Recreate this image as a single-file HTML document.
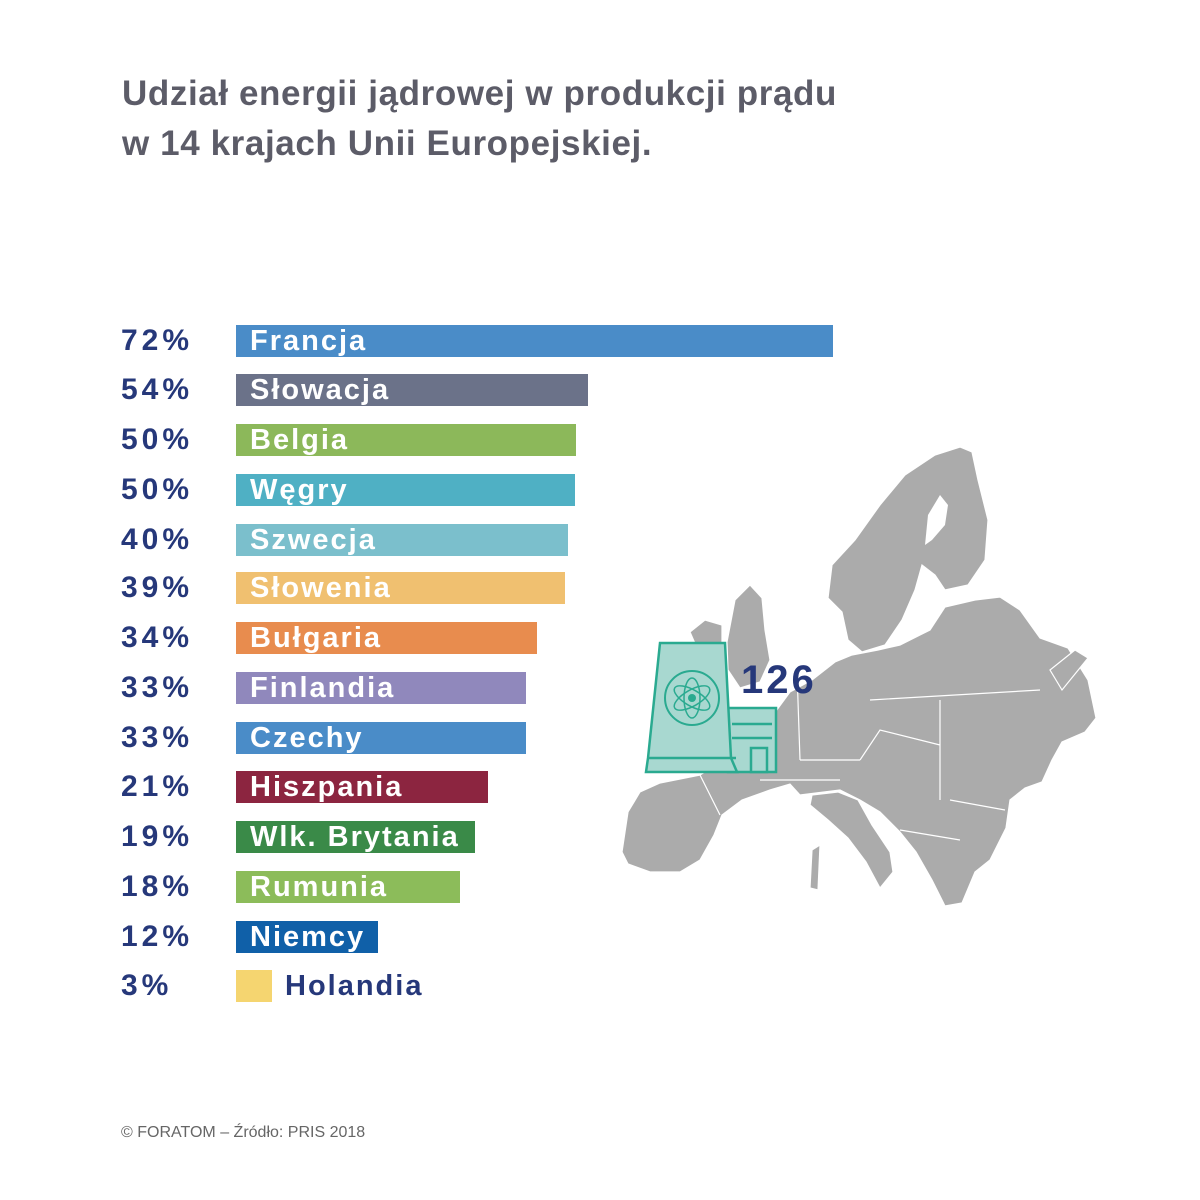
<!DOCTYPE html>
<html><head><meta charset="utf-8"><style>
body{margin:0;width:1200px;height:1200px;background:#fff;position:relative;overflow:hidden;font-family:"Liberation Sans",sans-serif}
.t{position:absolute;left:122px;font-size:35px;font-weight:bold;color:#5c5c68;line-height:1;letter-spacing:0.6px}
.p{position:absolute;left:121px;font-size:30px;font-weight:bold;color:#26387a;letter-spacing:4px;line-height:32px}
.b{position:absolute;left:236px;height:32px}
.l{position:absolute;left:250px;font-size:29px;font-weight:bold;color:#fff;letter-spacing:2px;line-height:32px}
</style></head><body>
<div class="t" style="top:76px">Udział energii jądrowej w produkcji prądu</div>
<div class="t" style="top:126px">w 14 krajach Unii Europejskiej.</div>

<svg style="position:absolute;left:0;top:0" width="1200" height="1200">
<g fill="#ababab" stroke="#fff" stroke-width="1.2">
<path d="M622,852 L628,812 L640,792 L660,783 L700,775 L720,762 L742,742 L768,722 L790,692 L812,680 L835,662 L852,655 L878,650 L900,645 L930,630 L945,607 L975,600 L1000,597 L1020,610 L1040,638 L1068,648 L1088,680 L1096,718 L1085,732 L1062,742 L1052,760 L1042,782 L1025,788 L1010,800 L1006,828 L990,860 L975,872 L962,903 L945,906 L932,880 L916,852 L900,832 L880,812 L860,800 L840,790 L800,795 L790,784 L770,790 L742,800 L722,815 L714,835 L700,860 L680,872 L650,872 L628,864 Z"/>
<path d="M838,792 L858,800 L872,825 L890,852 L893,872 L880,888 L866,862 L848,838 L828,820 L810,805 L812,795 Z"/>
<path d="M828,598 L832,565 L855,540 L880,505 L905,475 L935,455 L960,447 L972,452 L978,480 L988,520 L985,560 L968,585 L945,590 L935,575 L922,565 L915,590 L902,620 L885,645 L862,652 L848,640 L842,612 Z"/>
<path d="M932,540 L945,525 L948,505 L940,495 L928,515 L925,545 Z" fill="#fff" stroke="none"/>
<path d="M727,642 L735,600 L750,585 L762,598 L765,630 L770,660 L760,682 L740,688 L728,670 Z"/>
<path d="M690,632 L705,620 L722,625 L722,648 L700,655 Z"/>
<path d="M1050,670 L1075,650 L1088,658 L1062,690 Z"/>
<path d="M812,850 L820,845 L818,890 L810,888 Z"/>
</g>
<g stroke="#fff" stroke-width="1.2" fill="none">
<path d="M797,672 L800,760 M800,760 L860,760 M860,760 L880,730 L940,745 M940,700 L940,800 M870,700 L1040,690 M760,780 L840,780 M950,800 L1005,810 M900,830 L960,840 M700,775 L720,815"/>
</g>
<g stroke="#2aaa90" stroke-width="2.5" fill="#a8d8d0">
<rect x="728" y="708" width="48" height="64"/>
<path d="M660,643 L725,643 L731,758 L737,772 L646,772 L648,758 Z"/>
<line x1="647" y1="758" x2="736" y2="758"/>
<line x1="732" y1="724" x2="772" y2="724"/>
<line x1="732" y1="738" x2="772" y2="738"/>
<rect x="751" y="748" width="16" height="24"/>
<circle cx="692" cy="698" r="27" fill="none" stroke-width="2"/>
<ellipse cx="692" cy="698" rx="20" ry="8" fill="none" stroke-width="1.5" transform="rotate(30 692 698)"/>
<ellipse cx="692" cy="698" rx="20" ry="8" fill="none" stroke-width="1.5" transform="rotate(-30 692 698)"/>
<ellipse cx="692" cy="698" rx="20" ry="8" fill="none" stroke-width="1.5" transform="rotate(90 692 698)"/>
<circle cx="692" cy="698" r="4" fill="#2aaa90" stroke="none"/>
</g>
<text x="741" y="693" font-family="Liberation Sans" font-weight="bold" font-size="40" fill="#26387a" letter-spacing="3">126</text>
</svg>

<div class="b" style="top:325px;width:597px;background:#4a8cc8"></div>
<div class="b" style="top:374px;width:352px;background:#6b7289"></div>
<div class="b" style="top:424px;width:340px;background:#8cb85a"></div>
<div class="b" style="top:474px;width:339px;background:#4fb0c4"></div>
<div class="b" style="top:524px;width:332px;background:#7bbfcc"></div>
<div class="b" style="top:572px;width:329px;background:#f0c070"></div>
<div class="b" style="top:622px;width:301px;background:#e88c4e"></div>
<div class="b" style="top:672px;width:290px;background:#9088bc"></div>
<div class="b" style="top:722px;width:290px;background:#4a8cc8"></div>
<div class="b" style="top:771px;width:252px;background:#8c2540"></div>
<div class="b" style="top:821px;width:239px;background:#3a8a48"></div>
<div class="b" style="top:871px;width:224px;background:#8cbc5a"></div>
<div class="b" style="top:921px;width:142px;background:#1060a8"></div>
<div class="b" style="top:970px;width:36px;background:#f5d570"></div>

<div class="l" style="top:325px">Francja</div>
<div class="l" style="top:374px">Słowacja</div>
<div class="l" style="top:424px">Belgia</div>
<div class="l" style="top:474px">Węgry</div>
<div class="l" style="top:524px">Szwecja</div>
<div class="l" style="top:572px">Słowenia</div>
<div class="l" style="top:622px">Bułgaria</div>
<div class="l" style="top:672px">Finlandia</div>
<div class="l" style="top:722px">Czechy</div>
<div class="l" style="top:771px">Hiszpania</div>
<div class="l" style="top:821px">Wlk. Brytania</div>
<div class="l" style="top:871px">Rumunia</div>
<div class="l" style="top:921px">Niemcy</div>
<div class="l" style="top:970px;left:285px;color:#26387a">Holandia</div>

<div class="p" style="top:325px">72%</div>
<div class="p" style="top:374px">54%</div>
<div class="p" style="top:424px">50%</div>
<div class="p" style="top:474px">50%</div>
<div class="p" style="top:524px">40%</div>
<div class="p" style="top:572px">39%</div>
<div class="p" style="top:622px">34%</div>
<div class="p" style="top:672px">33%</div>
<div class="p" style="top:722px">33%</div>
<div class="p" style="top:771px">21%</div>
<div class="p" style="top:821px">19%</div>
<div class="p" style="top:871px">18%</div>
<div class="p" style="top:921px">12%</div>
<div class="p" style="top:970px">3%</div>

<div style="position:absolute;left:121px;top:1124px;font-size:16px;color:#666">© FORATOM – Źródło: PRIS 2018</div>
</body></html>
